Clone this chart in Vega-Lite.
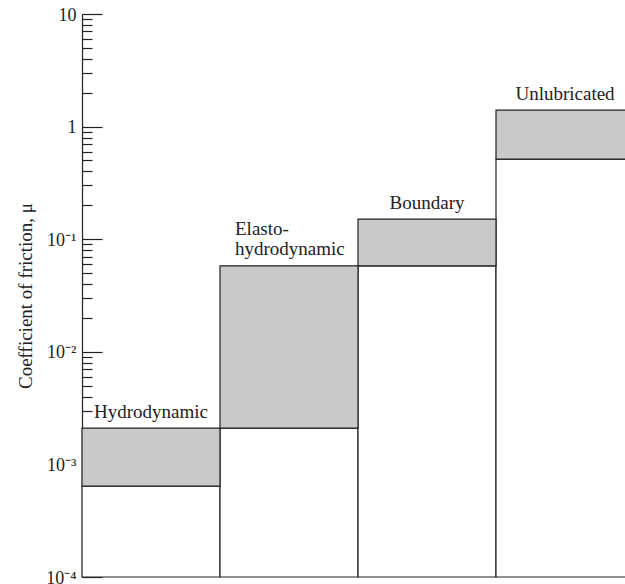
{
  "$schema": "https://vega.github.io/schema/vega-lite/v6.json",
  "autosize": "none",
  "padding": {"left": 82, "top": 14, "right": 0, "bottom": 7},
  "width": 552,
  "height": 563,
  "background": "white",
  "config": {"view": {"stroke": null}},
  "data": {
    "values": [
      {"regime": "Hydrodynamic", "lo": 0.00064, "hi": 0.0021, "label": ["Hydrodynamic"]},
      {"regime": "Elasto-hydrodynamic", "lo": 0.0021, "hi": 0.058, "label": ["Elasto-", "hydrodynamic"]},
      {"regime": "Boundary", "lo": 0.058, "hi": 0.151, "label": ["Boundary"]},
      {"regime": "Unlubricated", "lo": 0.515, "hi": 1.4, "label": ["Unlubricated"]}
    ]
  },
  "resolve": {"axis": {"y": "independent"}},
  "layer": [
    {
      "mark": {"type": "rect", "fill": "white", "stroke": "#222", "strokeWidth": 1.2},
      "encoding": {
        "x": {"field": "regime", "type": "nominal", "sort": null, "axis": null,
              "scale": {"paddingInner": 0, "paddingOuter": 0}},
        "y": {"field": "lo", "type": "quantitative",
              "scale": {"type": "log", "domain": [0.0001, 10], "nice": false},
              "axis": {"orient": "left", "values": [0.0001, 0.001, 0.01, 0.1, 1, 10], "tickSize": -20, "tickColor": "#222", "tickWidth": 1.2,
                       "labels": false, "domain": true, "domainColor": "#222", "domainWidth": 1.2, "grid": false, "title": null}},
        "y2": {"datum": 0.0001}
      }
    },
    {
      "mark": {"type": "rect", "fill": "#c9c9c9", "stroke": "#222", "strokeWidth": 1.2},
      "encoding": {
        "x": {"field": "regime", "type": "nominal", "sort": null, "axis": null},
        "y": {"field": "hi", "type": "quantitative",
              "axis": {"orient": "left", "values": [0.0002, 0.0003, 0.0004, 0.0005, 0.0006, 0.0007, 0.0008, 0.0009,
                                  0.002, 0.003, 0.004, 0.005, 0.006, 0.007, 0.008, 0.009,
                                  0.02, 0.03, 0.04, 0.05, 0.06, 0.07, 0.08, 0.09,
                                  0.2, 0.3, 0.4, 0.5, 0.6, 0.7, 0.8, 0.9,
                                  2, 3, 4, 5, 6, 7, 8, 9],
                       "tickSize": -10, "tickColor": "#222", "tickWidth": 1.2,
                       "labels": false, "domain": false, "grid": false, "title": null}},
        "y2": {"field": "lo"}
      }
    },
    {
      "transform": [{"filter": "datum.regime != 'Elasto-hydrodynamic'"}],
      "mark": {"type": "text", "font": "Liberation Serif", "fontSize": 19, "color": "#222",
               "align": "center", "baseline": "alphabetic", "dy": -10},
      "encoding": {
        "x": {"field": "regime", "type": "nominal", "sort": null, "axis": null},
        "y": {"field": "hi", "type": "quantitative",
              "axis": {"orient": "left", "values": [0.0001, 0.001, 0.01, 0.1, 1, 10], "ticks": false, "domain": false, "grid": false,
                       "labelExpr": "datum.value < 0.0005 ? '10⁻⁴' : datum.value < 0.005 ? '10⁻³' : datum.value < 0.05 ? '10⁻²' : datum.value < 0.5 ? '10⁻¹' : datum.value < 5 ? '1' : '10'",
                       "labelFont": "Liberation Serif", "labelFontSize": 18, "labelColor": "#222", "labelPadding": 6,
                       "labelBaseline": "alphabetic", "labelOffset": 6, "labelBound": false, "labelOverlap": false,
                       "title": "Coefficient of friction, μ", "titleFont": "Liberation Serif", "titleFontSize": 19,
                       "titleFontWeight": "normal", "titleColor": "#222", "titlePadding": 10}},
        "text": {"field": "label"}
      }
    },
    {
      "transform": [{"filter": "datum.regime == 'Elasto-hydrodynamic'"}],
      "mark": {"type": "text", "font": "Liberation Serif", "fontSize": 19, "color": "#222",
               "align": "left", "baseline": "alphabetic", "dx": -54, "dy": -31, "lineHeight": 20},
      "encoding": {
        "x": {"field": "regime", "type": "nominal", "sort": null, "axis": null},
        "y": {"field": "hi", "type": "quantitative", "axis": null},
        "text": {"field": "label"}
      }
    }
  ]
}
